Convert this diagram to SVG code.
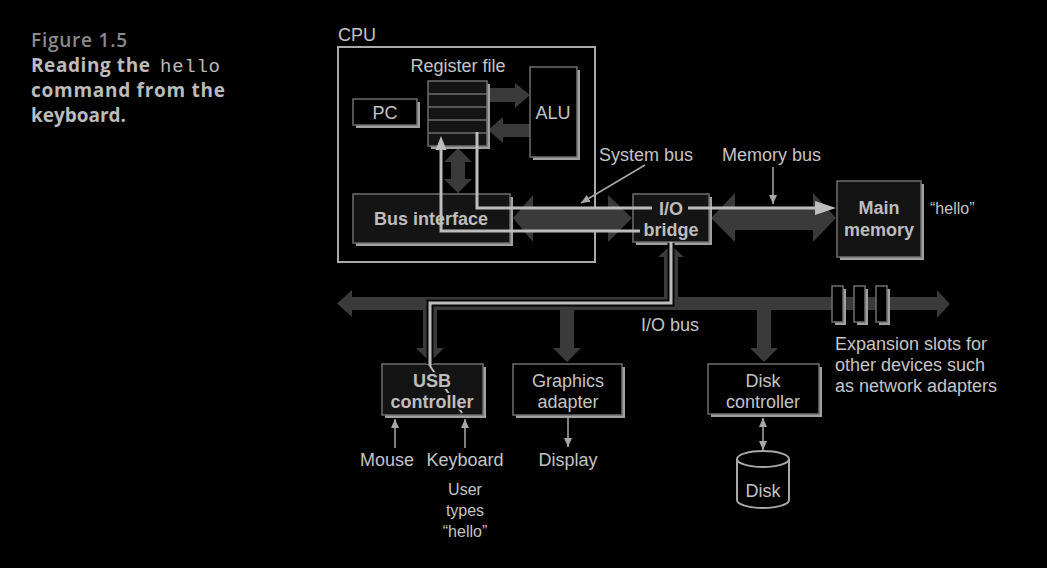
<svg xmlns="http://www.w3.org/2000/svg" width="1047" height="568" viewBox="0 0 1047 568">
<style>
.t{font-family:"Liberation Sans",Arial,sans-serif;font-size:18px;fill:#c4c4c4}
.b{font-weight:bold;fill:#bdbdbd}
.c{text-anchor:middle}
.s16{font-size:16px}
.sh{fill:#a0a0a0}
.bx{fill:#000;stroke:#6e6e6e;stroke-width:1.5}
.dk{fill:#141414}
.bus{fill:#3a3a3a}
.dp{fill:none;stroke:#bdbdbd;stroke-width:3}
.case{fill:none;stroke:#080808;stroke-width:7}
.thin{fill:none;stroke:#a8a8a8;stroke-width:1.5}
.cap{font-family:"Open Sans","DejaVu Sans",sans-serif;font-size:19px}
.ko{stroke:#141414;stroke-width:4;paint-order:stroke}
</style>
<defs>
<marker id="ah" markerWidth="9" markerHeight="8" refX="9" refY="4" orient="auto-start-reverse" markerUnits="userSpaceOnUse" viewBox="0 0 9 8"><path d="M0,0 L9,4 L0,8 z" fill="#a8a8a8"/></marker>
</defs>
<rect width="1047" height="568" fill="#000"/>

<g id="caption">
<text class="cap" x="31" y="47" fill="#8a8a8a" font-weight="600" textLength="96">Figure 1.5</text>
<text class="cap" x="31" y="72" fill="#bbb" font-weight="bold" textLength="119">Reading the</text>
<text x="160" y="72" fill="#bbb" font-family="Liberation Mono,monospace" font-size="19px" textLength="60">hello</text>
<text class="cap" x="31" y="97" fill="#bbb" font-weight="bold" textLength="194">command from the</text>
<text class="cap" x="31" y="122" fill="#bbb" font-weight="bold" textLength="95">keyboard.</text>
</g>

<g id="cpu">
<rect x="338" y="47" width="257" height="215" fill="none" stroke="#aaa" stroke-width="2"/>
<text class="t" x="338" y="41">CPU</text>
</g>

<g id="buses">
<polygon class="bus" points="487,88 515,88 515,83 530,95 515,108 515,102 487,102"/>
<polygon class="bus" points="530,124 503,124 503,117 488,130 503,143 503,137 530,137"/>
<polygon class="bus" points="458,148 472,162 465,162 465,179 472,179 458,193 444,179 451,179 451,162 444,162"/>
<polygon class="bus" points="513,218 533,195 533,207 608,207 608,195 632,218 608,242 608,230 533,230 533,242"/>
<polygon class="bus" points="711,218 735,193 735,207 813,207 813,193 836,218 813,242 813,230 735,230 735,242"/>
<polygon class="bus" points="337,303.5 352,290 352,297 937,297 937,290 950,304 937,318 937,310 352,310 352,317"/>
<polygon class="bus" points="664,297 664,257 658,257 671,245 684,257 678,257 678,297"/>
<polygon class="bus" points="423,310 437,310 437,348 444,348 430,362 416,348 423,348"/>
<polygon class="bus" points="560,310 574,310 574,348 581,348 567,362 553,348 560,348"/>
<polygon class="bus" points="757,310 771,310 771,348 778,348 764,362 750,348 757,348"/>
</g>

<g id="pc">
<rect class="sh" x="356" y="102" width="64" height="26"/>
<rect class="bx" x="353" y="99" width="64" height="26"/>
<text class="t c" x="385" y="119">PC</text>
</g>

<g id="regfile">
<rect class="sh" x="431" y="84" width="59" height="65"/>
<rect class="bx dk" x="428" y="81" width="59" height="65"/>
<path d="M428,94H487M428,107H487M428,120H487M428,133H487" stroke="#6e6e6e" stroke-width="1.5"/>
<text class="t c" x="458" y="72">Register file</text>
</g>

<g id="alu">
<rect class="sh" x="533" y="70" width="47" height="90"/>
<rect class="bx" x="530" y="67" width="47" height="90"/>
<text class="t c" x="553" y="119">ALU</text>
</g>

<g id="busif">
<rect class="sh" x="356" y="197" width="157" height="49"/>
<rect class="bx dk" x="353" y="194" width="157" height="49"/>
</g>

<g id="iobridge">
<rect class="sh" x="636" y="197" width="76" height="48"/>
<rect class="bx dk" x="633" y="194" width="76" height="48"/>
</g>

<g id="mainmem">
<rect class="sh" x="840" y="184" width="84" height="76"/>
<rect class="bx dk" x="837" y="181" width="84" height="76"/>
<text class="t c b" x="879" y="214">Main</text>
<text class="t c b" x="879" y="236">memory</text>
<text class="t s16" x="930" y="214">“hello”</text>
</g>

<g id="usb">
<rect class="sh" x="385" y="367" width="101" height="51"/>
<rect class="bx dk" x="382" y="364" width="101" height="51"/>
</g>

<g id="graphics">
<rect class="sh" x="516" y="367" width="109" height="51"/>
<rect class="bx" x="513" y="364" width="109" height="51"/>
<text class="t c" x="568" y="387">Graphics</text>
<text class="t c" x="568" y="408">adapter</text>
</g>

<g id="diskctl">
<rect class="sh" x="711" y="367" width="111" height="50"/>
<rect class="bx" x="708" y="364" width="111" height="50"/>
<text class="t c" x="763" y="387">Disk</text>
<text class="t c" x="763" y="408">controller</text>
</g>

<g id="slots">
<rect class="sh" x="835" y="289" width="11" height="36"/>
<rect class="bx" x="832" y="286" width="11" height="36"/>
<rect class="sh" x="857" y="289" width="11" height="36"/>
<rect class="bx" x="854" y="286" width="11" height="36"/>
<rect class="sh" x="879" y="289" width="11" height="36"/>
<rect class="bx" x="876" y="286" width="11" height="36"/>
<text class="t" x="835" y="350">Expansion slots for</text>
<text class="t" x="835" y="371">other devices such</text>
<text class="t" x="835" y="392">as network adapters</text>
</g>

<g id="disk">
<path d="M737,459 V500 A26,8 0 0 0 789,500 V459" fill="none" stroke="#a8a8a8" stroke-width="2"/>
<ellipse cx="763" cy="459" rx="26" ry="8" fill="none" stroke="#a8a8a8" stroke-width="2"/>
<text class="t c" x="763" y="497">Disk</text>
</g>

<g id="connectors">
<polyline class="dp" points="640,231 441,231 441,148"/>
<polygon points="441,136 446.5,150 435.5,150" fill="#bdbdbd"/>
<polyline class="dp" points="477,132 477,208 652,208"/>
<line class="dp" x1="688" y1="208" x2="817" y2="208"/>
<polygon points="836,208 815,201 815,215" fill="#bdbdbd"/>
<polyline class="case" points="671,243 671,303 430,303 430,364"/>
<polyline class="dp" points="671,242 671,303 430,303 430,366"/>
<line x1="430" y1="366" x2="462" y2="413" stroke="#bdbdbd" stroke-width="2"/>
<line class="thin" x1="645" y1="165" x2="581" y2="203" marker-end="url(#ah)"/>
<line class="thin" x1="773" y1="167" x2="773" y2="204" marker-end="url(#ah)"/>
<line class="thin" x1="395" y1="448" x2="395" y2="419" marker-end="url(#ah)"/>
<line class="thin" x1="465" y1="448" x2="465" y2="419" marker-end="url(#ah)"/>
<line class="thin" x1="568" y1="416" x2="568" y2="447" marker-end="url(#ah)"/>
<line class="thin" x1="763" y1="418" x2="763" y2="450" marker-start="url(#ah)" marker-end="url(#ah)"/>
</g>

<g id="labels">
<text class="t c b" x="431" y="225">Bus interface</text>
<text class="t c b" x="671" y="215">I/O</text>
<text class="t c b" x="671" y="236">bridge</text>
<text class="t c b ko" x="432" y="387">USB</text>
<text class="t c b ko" x="432" y="408">controller</text>
<text class="t" x="599" y="161">System bus</text>
<text class="t" x="722" y="161">Memory bus</text>
<text class="t" x="641" y="331">I/O bus</text>
<text class="t c" x="387" y="466">Mouse</text>
<text class="t c" x="465" y="466">Keyboard</text>
<text class="t c" x="568" y="466">Display</text>
<text class="t c s16" x="465" y="495">User</text>
<text class="t c s16" x="465" y="516">types</text>
<text class="t c s16" x="465" y="537">“hello”</text>
</g>
</svg>
